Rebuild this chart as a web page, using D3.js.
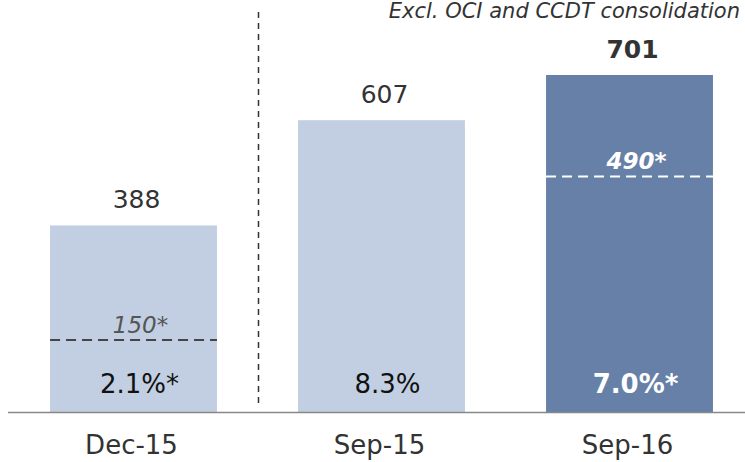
<!DOCTYPE html>
<html><head><meta charset="utf-8">
<script src="https://cdn.jsdelivr.net/npm/d3@7"></script>
<style>body{margin:0;background:#fff;}svg{display:block;font-family:"DejaVu Sans",Verdana,sans-serif;}</style>
</head><body><svg id="c" width="745" height="462"></svg>
<script>
const categories = ["Dec-15", "Sep-15", "Sep-16"];
const values = [388, 607, 701];
const exclValues = [150, null, 490];
const pctLabels = ["2.1%*", "8.3%", "7.0%*"];
const highlight = [false, false, true];
const note = "Excl. OCI and CCDT consolidation";

const svg = d3.select("#c");
const baseY = 412;
const x = d3.scaleBand().domain(categories).range([9.5, 753.5]).paddingInner(0.327).paddingOuter(0.1635);
const y = d3.scaleLinear().domain([0, 701]).range([baseY, 75]);

const light = "#c2cfe2", dark = "#6780a8";

svg.selectAll("rect.bar").data(categories).join("rect")
  .attr("x", d => x(d)).attr("width", x.bandwidth())
  .attr("y", (d,i) => y(values[i])).attr("height", (d,i) => baseY - y(values[i]))
  .attr("fill", (d,i) => highlight[i] ? dark : light);

// axis
const axis = svg.append("g").attr("transform", `translate(0,${baseY})`)
  .call(d3.axisBottom(x).tickSize(0).tickPadding(24));
axis.select(".domain").attr("d", "M8,0.5H745").attr("stroke", "#888").attr("stroke-width", 1.5);
axis.selectAll("text").attr("font-size", 26).attr("fill", "#333").attr("dx", -2)
  .attr("font-family", "DejaVu Sans, Verdana, sans-serif");

// value labels
svg.selectAll("text.val").data(categories).join("text")
  .attr("x", d => x(d) + x.bandwidth()/2 + 3)
  .attr("y", (d,i) => y(values[i]) - 17)
  .attr("text-anchor", "middle").attr("font-size", 25)
  .attr("font-weight", (d,i) => highlight[i] ? "bold" : "normal")
  .attr("fill", "#333").text((d,i) => values[i]);

// pct labels
svg.selectAll("text.pct").data(categories).join("text")
  .attr("x", d => x(d) + x.bandwidth()/2 + 6)
  .attr("y", baseY - 19)
  .attr("text-anchor", "middle").attr("font-size", 26)
  .attr("font-weight", (d,i) => highlight[i] ? "bold" : "normal")
  .attr("fill", (d,i) => highlight[i] ? "#fff" : "#111").text((d,i) => pctLabels[i]);

// excl dashed lines
const ex = categories.map((c,i) => ({c, v: exclValues[i], h: highlight[i]})).filter(d => d.v != null);
svg.selectAll("line.ex").data(ex).join("line")
  .attr("x1", d => x(d.c)).attr("x2", d => x(d.c) + x.bandwidth())
  .attr("y1", d => y(d.v)).attr("y2", d => y(d.v))
  .attr("stroke", d => d.h ? "#fff" : "#444").attr("stroke-width", 2)
  .attr("stroke-dasharray", "10,6");
svg.selectAll("text.ex").data(ex).join("text")
  .attr("x", d => x(d.c) + x.bandwidth()/2 + 7)
  .attr("y", d => y(d.v) - 7)
  .attr("text-anchor", "middle").attr("font-size", 23).attr("font-style", "italic")
  .attr("font-weight", d => d.h ? "bold" : "normal")
  .attr("fill", d => d.h ? "#fff" : "#555").text(d => d.v + "*");

// vertical separator
const sepX = (x(categories[0]) + x.bandwidth() + x(categories[1])) / 2 + 1;
svg.append("line").attr("x1", sepX).attr("x2", sepX).attr("y1", 12).attr("y2", 406)
  .attr("stroke", "#333").attr("stroke-width", 1.5).attr("stroke-dasharray", "6,5");

// note
svg.append("text").attr("x", 740).attr("y", 18).attr("text-anchor", "end")
  .attr("font-size", 21).attr("font-style", "italic").attr("fill", "#333").text(note);
</script></body></html>
